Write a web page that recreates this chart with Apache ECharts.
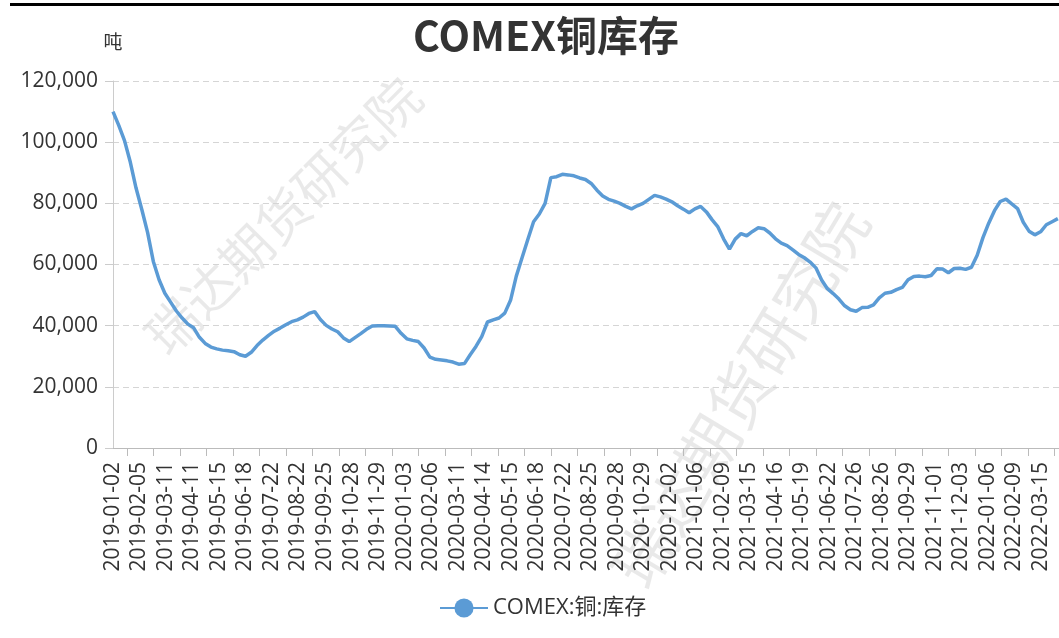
<!DOCTYPE html>
<html>
<head>
<meta charset="utf-8">
<script src="https://cdn.jsdelivr.net/npm/echarts@6/dist/echarts.min.js"></script>
<style>
  html, body { margin: 0; padding: 0; background: #fff; }
  #chart { width: 1059px; height: 638px; }
</style>
</head>
<body>
<div id="chart"></div>
<script>
// COMEX 铜库存（吨），美国交易日
const HOLIDAYS = [
  "2019-01-21", "2019-02-18", "2019-04-19", "2019-05-27", "2019-07-04", "2019-09-02", "2019-11-28", "2019-12-25",
  "2020-01-01", "2020-01-20", "2020-02-17", "2020-04-10", "2020-05-25", "2020-07-03", "2020-08-03", "2020-09-07",
  "2020-11-26", "2020-12-25",
  "2021-01-01", "2021-01-18", "2021-02-15", "2021-04-02", "2021-05-31", "2021-07-05", "2021-09-06", "2021-11-25",
  "2021-12-24",
  "2022-01-17", "2022-02-21"
];
const FIRST_DAY = "2019-01-02";
const LAST_DAY = "2022-04-06";

// 库存读数，每 5 个交易日一个点
const STEP = 5;
const stock = [
  110000, 105500, 100500, 93500, 85000, 78000, 70500, 61000, 55000, 50600,
  47700, 44800, 42500, 40500, 39300, 36200, 34200, 33000, 32400, 32000,
  31800, 31500, 30500, 30000, 31300, 33500, 35300, 36800, 38200, 39200,
  40300, 41300, 41900, 42800, 44000, 44600, 42000, 40100, 38900, 38000,
  36000, 34800, 36100, 37400, 38800, 39900, 40000, 40000, 39900, 39800,
  37500, 35700, 35200, 34800, 32700, 29700, 29000, 28800, 28500, 28100,
  27400, 27600, 30500, 33200, 36400, 41200, 41900, 42500, 44100, 48300,
  56200, 62200, 68200, 74000, 76500, 80000, 88400, 88700, 89500, 89300,
  89000, 88300, 87800, 86500, 84300, 82400, 81300, 80700, 80000, 79000,
  78200, 79200, 80000, 81300, 82600, 82100, 81400, 80500, 79200, 78100,
  76900, 78200, 79000, 77200, 74600, 72300, 68300, 65000, 68300, 70100,
  69400, 70800, 72000, 71700, 70300, 68400, 67000, 66200, 64800, 63300,
  62200, 60800, 58900, 54900, 52100, 50500, 48700, 46500, 45200, 44700,
  45900, 46000, 46800, 49100, 50600, 50900, 51800, 52500, 55000, 56100,
  56200, 56000, 56400, 58600, 58500, 57300, 58700, 58800, 58400, 59100,
  63000, 68800, 73500, 77600, 80600, 81400, 79800, 78300, 73800, 70900,
  69700, 70700, 73000, 74000, 75000
];

function tradingDays(start, end) {
  const out = [];
  const d = new Date(start + "T00:00:00Z");
  const stop = new Date(end + "T00:00:00Z");
  while (d <= stop) {
    const s = d.toISOString().slice(0, 10);
    const wd = d.getUTCDay();
    if (wd !== 0 && wd !== 6 && !HOLIDAYS.includes(s)) out.push(s);
    d.setUTCDate(d.getUTCDate() + 1);
  }
  return out;
}

const dates = tradingDays(FIRST_DAY, LAST_DAY);
const seriesData = stock.map((v, i) => [i * STEP, v]);

const FONT = "'Open Sans', 'Noto Sans CJK SC', sans-serif";
const WATERMARK = "瑞达期货研究院";

const chart = echarts.init(document.getElementById("chart"));
chart.setOption({
  backgroundColor: "#fff",
  animation: false,
  textStyle: { fontFamily: FONT },
  title: {
    text: "COMEX铜库存",
    left: 541,
    textAlign: "center",
    top: 10,
    textStyle: { fontFamily: "'Noto Sans CJK SC', sans-serif", fontSize: 41, fontWeight: "bold", color: "#333" }
  },
  graphic: [
    { type: "rect", left: 10, top: 3, shape: { width: 1049, height: 3 }, style: { fill: "#000" } },
    {
      type: "text", x: 283, y: 216, rotation: Math.PI / 4, z: -10,
      style: { text: WATERMARK, fill: "rgba(0,0,0,0.085)", font: "52px 'Noto Sans CJK SC'", textAlign: "center", textVerticalAlign: "middle" }
    },
    {
      type: "text", x: 740, y: 395, rotation: Math.PI * 59 / 180, z: -10,
      style: { text: WATERMARK, fill: "rgba(0,0,0,0.085)", font: "62px 'Noto Sans CJK SC'", textAlign: "center", textVerticalAlign: "middle" }
    }
  ],
  legend: {
    data: ["COMEX:铜:库存"],
    left: 434,
    top: 592,
    itemWidth: 48,
    itemHeight: 24,
    textStyle: { fontSize: 22, color: "#333", fontFamily: FONT }
  },
  grid: { left: 113, right: 0, top: 81, bottom: 190, containLabel: false },
  xAxis: {
    type: "category",
    data: dates,
    boundaryGap: false,
    axisLine: { lineStyle: { color: "#bbb" } },
    axisTick: { length: 8, interval: (i) => i % 23 === 12, lineStyle: { color: "#bbb" } },
    axisLabel: { interval: 22, rotate: 90, margin: 14, fontSize: 21, color: "#333", fontFamily: FONT }
  },
  yAxis: {
    type: "value",
    name: "吨",
    nameLocation: "end",
    nameGap: 30,
    nameTextStyle: { fontSize: 19, color: "#333", fontFamily: "'Noto Sans CJK SC', sans-serif" },
    min: 0,
    max: 120000,
    interval: 20000,
    axisLine: { show: true, lineStyle: { color: "#ccc" } },
    axisTick: { show: true, length: 8, lineStyle: { color: "#ccc" } },
    axisLabel: {
      margin: 15, fontSize: 21, color: "#333", fontFamily: FONT,
      formatter: (v) => v.toLocaleString("en-US")
    },
    splitLine: { lineStyle: { color: "#d5d5d5", type: [6, 4] } }
  },
  series: [{
    name: "COMEX:铜:库存",
    type: "line",
    data: seriesData,
    symbol: "circle",
    showSymbol: false,
    color: "#5b9bd5",
    lineStyle: { width: 3.5, color: "#5b9bd5" }
  }]
});
</script>
</body>
</html>
